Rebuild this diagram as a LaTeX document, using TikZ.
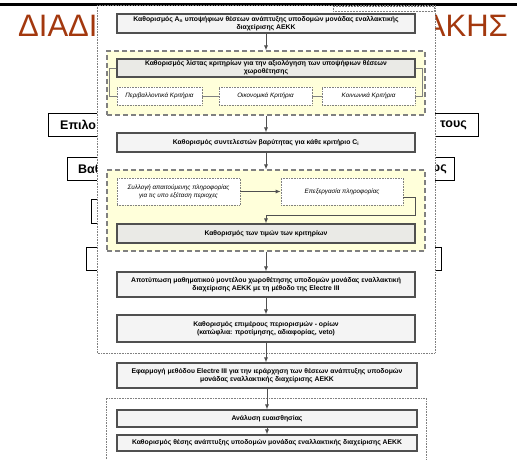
\documentclass[tikz,border=0pt]{standalone}
\usepackage{fontspec}
\setmainfont{Liberation Sans}
\usetikzlibrary{arrows.meta}
\definecolor{titlec}{RGB}{163,56,14}
\definecolor{boxfill}{RGB}{244,244,244}
\definecolor{boxfillb}{RGB}{234,234,230}
\definecolor{yellowfill}{RGB}{255,255,218}
\definecolor{boxedge}{RGB}{80,80,80}
\begin{document}
\begin{tikzpicture}[x=1pt,y=-1pt,
 solidbox/.style={draw=boxedge, line width=1.1pt, fill=boxfill, minimum width=298pt, inner sep=1pt, align=center, font=\fontsize{6.8}{8}\selectfont\bfseries},
 dotbox/.style={draw=gray, densely dotted, line width=0.6pt, fill=white, inner sep=1pt, align=center, font=\fontsize{6.3}{7.8}\selectfont\itshape},
 region/.style={draw=gray, dash pattern=on 5pt off 3pt, line width=1.1pt, fill=yellowfill, inner sep=0pt},
 flow/.style={-{Latex[length=5pt,width=4pt]}, line width=1pt, draw=boxedge},
 link/.style={line width=0.8pt, draw=gray},
 bgbox/.style={draw=black, line width=1pt, inner sep=0pt},
 bgtext/.style={inner sep=0pt, font=\fontsize{12.5}{14}\selectfont\bfseries},
 frame/.style={draw=gray, densely dotted, line width=0.6pt}
]
\useasboundingbox (0,0) rectangle (517,459);
% background slide
\draw[line width=3pt] (0,4) -- (517,4);
\node[anchor=base west, text=titlec, font=\fontsize{31}{31}\selectfont, inner sep=0pt] (t1) at (18,36) {ΔΙΑΔΙ};
\node[anchor=base east, text=titlec, font=\fontsize{31}{31}\selectfont, inner sep=0pt] (t2) at (508,36) {ΑΚΗΣ};
\node[bgbox, anchor=north west, minimum width=430pt, minimum height=23pt] (sa) at (48,113) {};
\node[bgtext, anchor=west] (sa1) at (60,125) {Επιλο};
\node[bgtext, anchor=east] (sa2) at (467,125) {τους};
\node[bgbox, anchor=north west, minimum width=387pt, minimum height=23pt] (sb) at (67,157) {};
\node[bgtext, anchor=west] (sb1) at (78,169) {Βαθ};
\node[bgtext, anchor=east] (sb2) at (447,169) {ως};
\node[bgbox, anchor=north west, minimum width=200pt, minimum height=24pt] (sc) at (91,199) {};
\node[bgbox, anchor=north west, minimum width=355pt, minimum height=23pt] (sd) at (86,247) {};
% overlay
\fill[white] (97,6) rectangle (435,459);
\draw[frame] (97,5) rectangle (435,353);
\draw[frame] (106,459) |- (426,398) -- (426,459);
\node[draw=gray, densely dotted, line width=0.5pt, minimum width=101pt, minimum height=5pt, inner sep=0pt] (tb) at (383.5,8.5) {};
% flowchart
\node[solidbox, minimum height=19pt] (b1) at (266,23.5) {Καθορισμός A\textsubscript{n} υποψήφιων θέσεων ανάπτυξης υποδομών μονάδας εναλλακτικής\\διαχείρισης ΑΕΚΚ};
\node[region, minimum width=318pt, minimum height=64pt] (r1) at (266,83) {};
\node[solidbox, fill=boxfillb, minimum height=18pt] (b2) at (266,68) {Καθορισμός λίστας κριτηρίων για την αξιολόγηση των υποψήφιων θέσεων\\χωροθέτησης};
\node[dotbox, minimum width=85pt, minimum height=18pt] (c1) at (159.5,96) {Περιβαλλοντικά Κριτήρια};
\node[dotbox, minimum width=93pt, minimum height=18pt] (c2) at (265.5,96) {Οικονομικά Κριτήρια};
\node[dotbox, minimum width=93pt, minimum height=18pt] (c3) at (368.5,96) {Κοινωνικά Κριτήρια};
\node[solidbox, minimum height=19pt] (b3) at (266,142.5) {Καθορισμός συντελεστών βαρύτητας για κάθε κριτήριο C\textsubscript{i}};
\node[region, minimum width=318pt, minimum height=81pt] (r2) at (266,210.5) {};
\node[dotbox, minimum width=123pt, minimum height=27pt] (d1) at (178.5,191.5) {Συλλογή απαιτούμενης πληροφορίας\\για τις υπο εξέταση περιοχες};
\node[dotbox, minimum width=122pt, minimum height=27pt] (d2) at (342,191.5) {Επεξεργασία πληροφορίας};
\node[solidbox, fill=boxfillb, minimum height=19pt] (b4) at (266,233.5) {Καθορισμός των τιμών των κριτηρίων};
\node[solidbox, minimum height=25pt] (b5) at (266,284.5) {Αποτύπωση μαθηματικού μοντέλου χωροθέτησης υποδομών μονάδας εναλλακτική\\διαχείρισης ΑΕΚΚ με τη μέθοδο της Electre III};
\node[solidbox, minimum height=27pt] (b6) at (266,328.5) {Καθορισμός επιμέρους περιορισμών - ορίων\\(κατώφλια: προτίμησης, αδιαφορίας, veto)};
\node[solidbox, minimum width=300pt, minimum height=25pt] (b7) at (267,375.5) {Εφαρμογή μεθόδου Electre III για την ιεράρχηση των θέσεων ανάπτυξης υποδομών\\μονάδας εναλλακτικής διαχείρισης ΑΕΚΚ};
\node[solidbox, minimum width=300pt, minimum height=17pt] (b8) at (267,418.5) {Ανάλυση ευαισθησίας};
\node[solidbox, minimum width=300pt, minimum height=16pt] (b9) at (267,443) {Καθορισμός θέσης ανάπτυξης υποδομών μονάδας εναλλακτικής διαχείρισης ΑΕΚΚ};
% connectors
\draw[flow] (b1.south) -- (r1.north);
\draw[flow] (r1.south) -- (b3.north);
\draw[flow] (b3.south) -- (r2.north);
\draw[flow] (r2.south) -- (b5.north);
\draw[flow] (b5.south) -- (b6.north);
\draw[flow] (b6.south) -- (b6.south |- b7.north);
\draw[flow] (b7.south) -- (b8.north);
\draw[flow] (b8.south) -- (b9.north);
\draw[link] (b2.west) -- ++(-7,0) |- (c1.west);
\draw[link] (b2.east) -- ++(7,0) |- (c3.east);
\draw[link] (c1.east) -- (c2.west);
\draw[link] (c2.east) -- (c3.west);
\draw[flow] (d1.east) -- (d2.west);
\coordinate (k1) at (415,215);
\draw[flow] ([yshift=-5.5pt]d2.east) -| (k1) -| (b4.north);
\end{tikzpicture}
\end{document}
